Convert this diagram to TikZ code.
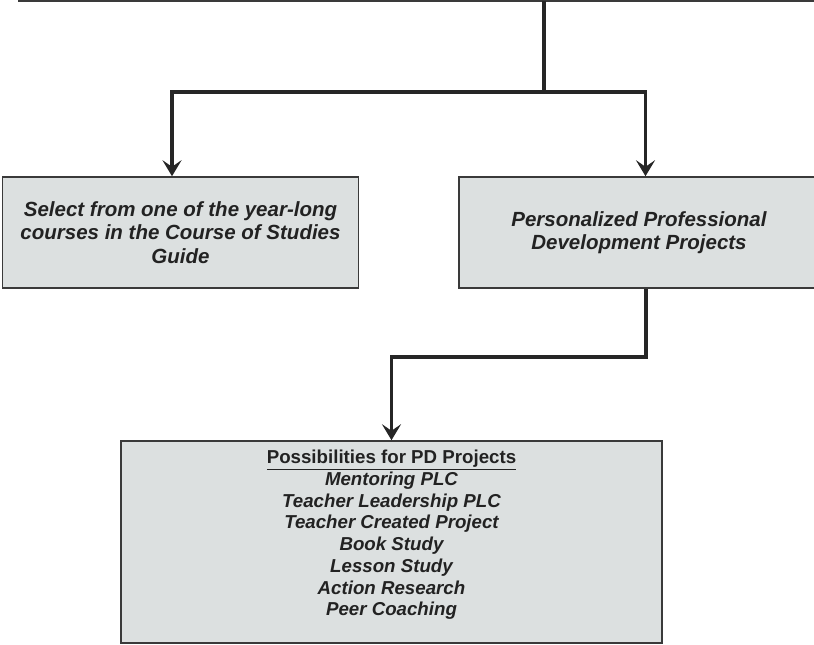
\documentclass[tikz,border=0pt]{standalone}
\usepackage{fontspec}
\setmainfont{Liberation Sans}
\usetikzlibrary{arrows.meta,positioning}

\definecolor{boxfill}{RGB}{220,224,224}
\definecolor{boxline}{RGB}{58,58,58}
\definecolor{flowline}{RGB}{38,38,38}
\definecolor{inktext}{RGB}{34,34,34}

\tikzset{
	choicebox/.style={draw=boxline, line width=1.5pt, fill=boxfill, inner sep=0pt,
		minimum width=356pt, minimum height=111pt, align=center, text=inktext,
		font=\fontsize{20.5}{23.5}\selectfont\bfseries\itshape},
	flow/.style={draw=flowline, line width=3.6pt,
		-{Stealth[length=16pt,width=19pt,inset=6.5pt]}},
	flowbar/.style={draw=flowline, line width=3.6pt},
	rootline/.style={draw=boxline, line width=2pt}
}

\begin{document}
\begin{tikzpicture}[x=1pt,y=-1pt]
	\useasboundingbox (0,0) rectangle (814,645);

	% boxes
	\node[choicebox] (selbox) at (180.5,232.5) {Select from one of the year-long\\courses in the Course of Studies\\Guide};
	\node[choicebox, minimum width=360pt] (ppdbox) at (639,232.5) {Personalized Professional\\Development Projects};
	\node[choicebox, minimum width=541pt, minimum height=202pt] (pdbox) at (391.5,542) {};
	\node[align=center, text=inktext, font=\fontsize{18.7}{21.7}\selectfont\bfseries\itshape]
		(pdlist) at ([yshift=7pt]pdbox.center)
		{{\upshape\underline{Possibilities for PD Projects}}\\Mentoring PLC\\Teacher Leadership PLC\\Teacher Created Project\\Book Study\\Lesson Study\\Action Research\\Peer Coaching};

	% connectors
	\coordinate (rootL) at (18,1);
	\coordinate (rootR) at (816,1);
	\coordinate (split) at (544,1);
	\coordinate (hub) at (544,92);
	\draw[rootline] (rootL) -- (rootR);
	\draw[flowbar] (split) -- (hub);
	\draw[flow] (hub) -| ([xshift=-8.5pt]selbox.north);
	\draw[flow] (hub) -| ([xshift=6.5pt]ppdbox.north);
	\draw[flow] ([xshift=7pt]ppdbox.south) -- ++(0,68) -| (pdbox.north);
\end{tikzpicture}
\end{document}
